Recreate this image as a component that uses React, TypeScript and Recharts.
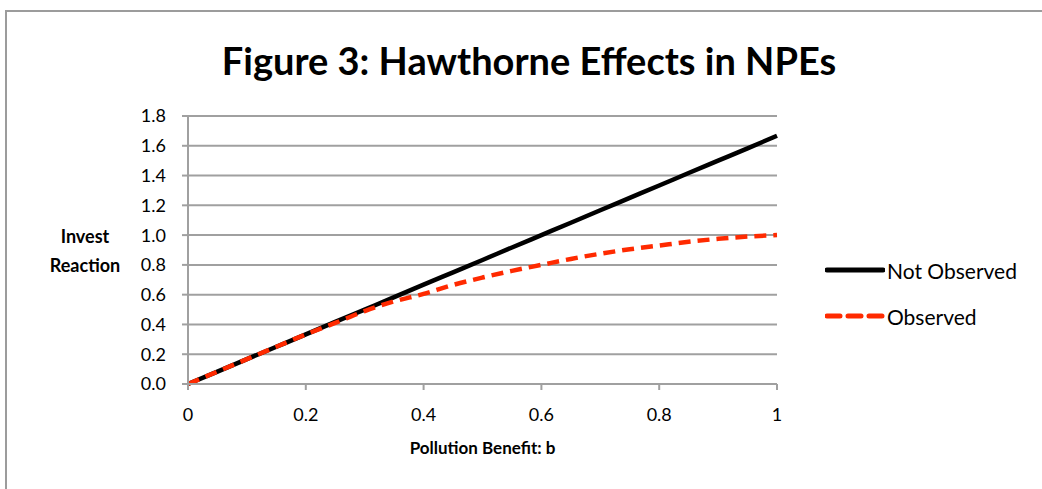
import { LineChart, Line, XAxis, YAxis, CartesianGrid } from "recharts";

const benefit = [0, 0.05, 0.1, 0.15, 0.2, 0.25, 0.3, 0.35, 0.4, 0.45, 0.5, 0.55, 0.6, 0.65, 0.7, 0.75, 0.8, 0.85, 0.9, 0.95, 1];
const notObserved = [0, 0.083, 0.167, 0.25, 0.333, 0.417, 0.5, 0.583, 0.667, 0.75, 0.833, 0.917, 1.0, 1.083, 1.167, 1.25, 1.333, 1.417, 1.5, 1.583, 1.667];
const observed = [0, 0.083, 0.167, 0.25, 0.333, 0.41, 0.49, 0.555, 0.605, 0.665, 0.715, 0.76, 0.8, 0.84, 0.875, 0.905, 0.93, 0.955, 0.975, 0.99, 1.0];

const xTicks = [0, 0.2, 0.4, 0.6, 0.8, 1];
const yTicks = [0, 0.2, 0.4, 0.6, 0.8, 1.0, 1.2, 1.4, 1.6, 1.8];

const data = benefit.map((b, i) => ({ b, notObserved: notObserved[i], observed: observed[i] }));

const FONT = "Lato, 'Open Sans', sans-serif";
const GRID = "#a0a0a0";

const legendItems = [
  { label: "Not Observed", color: "#000", dash: undefined as string | undefined },
  { label: "Observed", color: "#ff2a00", dash: "13 8" },
];

function LegendBox() {
  return (
    <div style={{ position: "absolute", left: 818, top: 246, fontFamily: FONT, fontSize: 21 }}>
      {legendItems.map((it, i) => (
        <div key={it.label} style={{ display: "flex", alignItems: "center", height: 24, marginBottom: i === 0 ? 22 : 0 }}>
          <svg width={60} height={10} style={{ display: "block" }}>
            <line x1={2} y1={5} x2={58} y2={5} stroke={it.color} strokeWidth={5} strokeDasharray={it.dash} strokeLinecap="round" />
          </svg>
          <span style={{ color: "#000", marginLeft: 2 }}>{it.label}</span>
        </div>
      ))}
    </div>
  );
}

export default function App() {
  return (
    <div
      style={{
        position: "absolute",
        left: 5,
        top: 10,
        width: 1037,
        height: 479,
        borderLeft: "2px solid #9c9c9c",
        borderTop: "2px solid #9c9c9c",
        background: "#fff",
        overflow: "hidden",
      }}
    >
      <LineChart width={1035} height={477} data={data} margin={{ top: 104, right: 265, bottom: 45, left: 0 }}>
        <text x={522} y={63} textAnchor="middle" fontFamily={FONT} fontWeight="bold" fontSize={38} fill="#000">
          Figure 3: Hawthorne Effects in NPEs
        </text>
        <CartesianGrid vertical={false} stroke={GRID} strokeWidth={2} />
        <XAxis
          dataKey="b"
          type="number"
          domain={[0, 1]}
          ticks={xTicks}
          tickFormatter={(v: number) => (v === 0 || v === 1 ? String(v) : v.toFixed(1))}
          height={60}
          tickSize={6}
          tickMargin={18}
          stroke={GRID}
          strokeWidth={2}
          tick={{ fill: "#000", fontSize: 18, fontFamily: FONT }}
          label={{
            content: (props: any) => {
              const vb = props.viewBox;
              return (
                <text x={vb.x + vb.width / 2} y={vb.y + 70} textAnchor="middle" fontFamily={FONT} fontWeight="bold" fontSize={17} fill="#000">
                  Pollution Benefit: b
                </text>
              );
            },
          }}
        />
        <YAxis
          type="number"
          domain={[0, 1.8]}
          ticks={yTicks}
          tickFormatter={(v: number) => v.toFixed(1)}
          width={181}
          tickSize={6}
          tickMargin={16}
          stroke={GRID}
          strokeWidth={2}
          interval={0}
          tick={{ fill: "#000", fontSize: 18, fontFamily: FONT }}
          label={{
            content: (props: any) => {
              const vb = props.viewBox;
              const cy = vb.y + vb.height / 2;
              return (
                <text textAnchor="middle" fontFamily={FONT} fontWeight="bold" fontSize={18} fill="#000">
                  <tspan x={78} y={cy - 7}>Invest</tspan>
                  <tspan x={78} y={cy + 22}>Reaction</tspan>
                </text>
              );
            },
          }}
        />
        <Line
          type="monotone"
          dataKey="notObserved"
          name="Not Observed"
          stroke="#000"
          strokeWidth={4.5}
          dot={false}
          isAnimationActive={false}
        />
        <Line
          type="monotone"
          dataKey="observed"
          name="Observed"
          stroke="#ff2a00"
          strokeWidth={4.5}
          strokeDasharray="12 7"
          dot={false}
          isAnimationActive={false}
        />
      </LineChart>
      <LegendBox />
    </div>
  );
}
